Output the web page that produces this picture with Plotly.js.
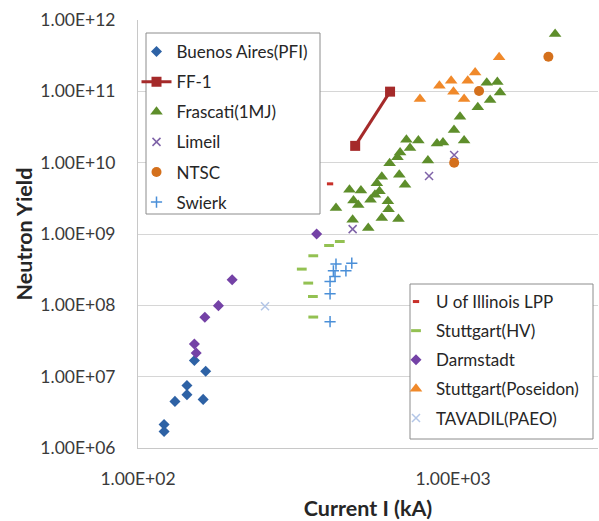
<!DOCTYPE html>
<html>
<head>
<meta charset="utf-8">
<script src="https://cdn.plot.ly/plotly-3.0.1.min.js"></script>
<style>html,body{margin:0;padding:0;background:#fff;}#chart{width:599px;height:521px;}</style>
</head>
<body>
<div id="chart"></div>
<script>
// ---- Data (Current I in kA, Neutron Yield) ----
const buenosX = [121, 121, 131, 143, 143, 161, 151, 164];
const buenosY = [2.13e6, 1.70e6, 4.5e6, 7.5e6, 5.6e6, 4.8e6, 1.69e7, 1.19e7];

const ff1X = [489, 631];
const ff1Y = [1.72e10, 9.9e10];

const frascatiX = [2108, 1279, 1382, 1410, 1311, 1198, 1052, 1007, 1084, 889, 929, 832, 776, 711, 730, 679, 666, 629,
                   675, 594, 704, 573, 469, 510, 584, 565, 483, 500, 547, 621, 624, 425, 594, 671, 480, 538];
const frascatiY = [6.37e11, 1.32e11, 1.355e11, 9.6e10, 7.58e10, 5.99e10, 4.42e10, 2.88e10, 2.04e10, 1.86e10, 1.91e10,
                   1.07e10, 2.05e10, 2.09e10, 1.6e10, 1.39e10, 1.19e10, 9.8e9, 6.75e9, 6.33e9, 4.89e9, 5.16e9, 4.16e9,
                   4.07e9, 3.96e9, 3.54e9, 2.96e9, 2.56e9, 3.01e9, 2.87e9, 2.22e9, 2.31e9, 1.67e9, 1.62e9, 1.58e9, 1.21e9];

const limeilX = [480, 839, 1008];
const limeilY = [1.17e9, 6.5e9, 1.28e10];

const ntscX = [1008, 1209, 2007];
const ntscY = [1.0e10, 1.01e11, 3.06e11];

const swierkX = [477, 425, 457, 417, 422, 407, 407, 407];
const swierkY = [3.9e8, 3.79e8, 3.05e8, 3.05e8, 2.54e8, 2.16e8, 1.45e8, 5.9e7];

const illinoisX = [407];
const illinoisY = [5.05e9];

const stuttHVX = [437, 404, 360, 331, 347, 359, 360];
const stuttHVY = [7.85e8, 6.9e8, 4.95e8, 3.22e8, 2.05e8, 1.33e8, 6.85e7];

const darmX = [151, 153, 163, 180, 199, 369];
const darmY = [2.87e7, 2.15e7, 6.8e7, 9.9e7, 2.29e8, 1.0e9];

const poseidonX = [785, 905, 986, 1003, 1084, 1113, 1175, 1400];
const poseidonY = [7.8e10, 1.2e11, 1.41e11, 9.9e10, 7.8e10, 1.41e11, 1.83e11, 3.0e11];

const tavadilX = [253];
const tavadilY = [9.7e7];

const yTickVals = [1e6, 1e7, 1e8, 1e9, 1e10, 1e11, 1e12];
const yTickText = ['1.00E+06', '1.00E+07', '1.00E+08', '1.00E+09', '1.00E+10', '1.00E+11', '1.00E+12'];
const xTickVals = [100, 1000];
const xTickText = ['1.00E+02', '1.00E+03'];

// ---- Layout helpers ----
const W = 599, H = 521;
const M = {l: 138, r: 1, t: 20, b: 73};
const PW = W - M.l - M.r, PH = H - M.t - M.b;
const px2x = p => (p - M.l) / PW;
const px2y = p => (H - M.b - p) / PH;

function sc(name, x, y, marker, legend, extra) {
  return Object.assign({
    type: 'scatter', mode: 'markers', name: name, x: x, y: y,
    marker: marker, legend: legend, legendgroup: name, cliponaxis: false
  }, extra || {});
}

const traces = [
  sc('Buenos Aires(PFI)', buenosX, buenosY, {symbol: 'diamond', size: 8.5, color: '#2e62a5'}, 'legend'),
  sc('FF-1', ff1X, ff1Y, {symbol: 'square', size: 10, color: '#a52a2a'}, 'legend',
     {mode: 'lines+markers', line: {color: '#a52a2a', width: 3}}),
  sc('Frascati(1MJ)', frascatiX, frascatiY, {symbol: 'triangle-up', size: 11, color: '#5e8e2b'}, 'legend'),
  sc('Limeil', limeilX, limeilY, {symbol: 'x-thin', size: 8, color: '#7f63a8', line: {color: '#7f63a8', width: 1.5}}, 'legend'),
  sc('NTSC', ntscX, ntscY, {symbol: 'circle', size: 10, color: '#d4701c'}, 'legend'),
  sc('Swierk', swierkX, swierkY, {symbol: 'cross-thin', size: 8, color: '#4a8fd8', line: {color: '#4a8fd8', width: 1.5}}, 'legend'),
  sc('U of Illinois LPP', illinoisX, illinoisY, {symbol: 'line-ew', size: 4.5, color: '#c8302a', line: {color: '#c8302a', width: 3}}, 'legend2'),
  sc('Stuttgart(HV)', stuttHVX, stuttHVY, {symbol: 'line-ew', size: 7, color: '#93c152', line: {color: '#93c152', width: 3}}, 'legend2'),
  sc('Darmstadt', darmX, darmY, {symbol: 'diamond', size: 8.5, color: '#7442a6'}, 'legend2'),
  sc('Stuttgart(Poseidon)', poseidonX, poseidonY, {symbol: 'triangle-up', size: 11, color: '#f0892a'}, 'legend2'),
  sc('TAVADIL(PAEO)', tavadilX, tavadilY, {symbol: 'x-thin', size: 8, color: '#b3c6e7', line: {color: '#b3c6e7', width: 1.5}}, 'legend2')
];

const font = 'Lato, "Open Sans", sans-serif';
const legendCommon = {
  bgcolor: 'rgba(0,0,0,0)', borderwidth: 0, traceorder: 'grouped',
  font: {family: font, size: 17, color: '#262626'}, xanchor: 'left', yanchor: 'top'
};

const layout = {
  width: W, height: H, margin: M,
  paper_bgcolor: '#ffffff', plot_bgcolor: '#ffffff',
  font: {family: font, size: 16, color: '#404040'},
  showlegend: true,
  xaxis: {
    type: 'log', range: [2, 3.46], showgrid: false, zeroline: false,
    showline: true, linecolor: '#c8c8c8', linewidth: 1,
    tickvals: xTickVals, ticktext: xTickText, ticks: '', ticklabelstandoff: 15,
    tickfont: {family: font, size: 17.5, color: '#3a3a3a'},
    title: {text: '<b>Current I (kA)</b>', font: {family: font, size: 21.5, color: '#262626'}, standoff: 16}
  },
  yaxis: {
    type: 'log', range: [6, 12], showgrid: true, gridcolor: '#d6d6d6', gridwidth: 1, zeroline: false,
    showline: true, linecolor: '#c8c8c8', linewidth: 1,
    tickvals: yTickVals, ticktext: yTickText, ticks: '', ticklabelstandoff: 18,
    tickfont: {family: font, size: 17.5, color: '#3a3a3a'},
    title: {text: '<b>Neutron Yield</b>', font: {family: font, size: 21.5, color: '#262626'}, standoff: 1}
  },
  legend: Object.assign({}, legendCommon, {x: px2x(136.5), y: px2y(34), tracegroupgap: 5}),
  legend2: Object.assign({}, legendCommon, {x: px2x(396), y: px2y(284), tracegroupgap: 4}),
  shapes: [
    {type: 'rect', xref: 'paper', yref: 'paper', x0: px2x(146), x1: px2x(320), y0: px2y(214), y1: px2y(33),
     line: {color: '#8c8c8c', width: 1}, fillcolor: '#ffffff', layer: 'above'},
    {type: 'rect', xref: 'paper', yref: 'paper', x0: px2x(410), x1: px2x(593), y0: px2y(439), y1: px2y(284),
     line: {color: '#8c8c8c', width: 1}, fillcolor: '#ffffff', layer: 'above'}
  ]
};

Plotly.newPlot('chart', traces, layout, {displayModeBar: false, staticPlot: true});
</script>
</body>
</html>
